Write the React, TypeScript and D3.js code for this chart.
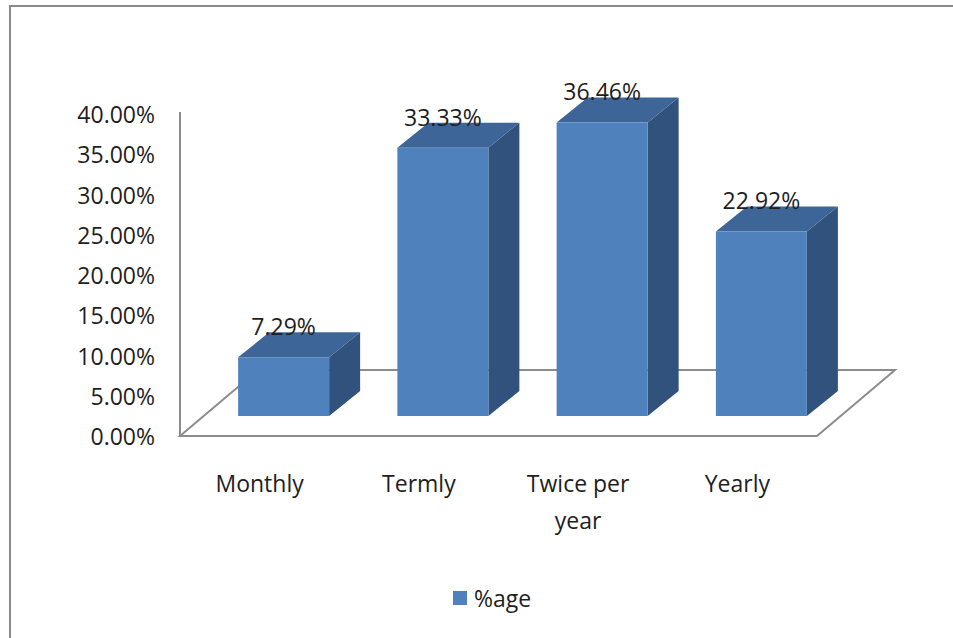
import React from "react";
import * as d3 from "d3";

// Survey responses: how often the activity takes place
const categories: string[][] = [["Monthly"], ["Termly"], ["Twice per", "year"], ["Yearly"]];
const values: number[] = [7.29, 33.33, 36.46, 22.92];
const yTicks: number[] = [0, 5, 10, 15, 20, 25, 30, 35, 40];
const seriesName = "%age";

const W = 953;
const H = 638;
const FONT = "'Open Sans', 'Noto Sans', sans-serif";

// 3D geometry of the floor and of the boxes
const floorLeft = 180;
const floorRight = 817;
const floorFrontY = 436;
const floorDepth = { dx: 78, dy: -66 };
const barShift = { dx: 24, dy: -20 }; // front face of bars sits this far back from the floor front
const barDepth = { dx: 31, dy: -25 };
const barWidth = 91;

const frontColor = "#4f81bd";
const topColor = "#3d6597";
const sideColor = "#30527c";
const lineColor = "#8c8c8c";
const textColor = "#1e1e1e";

export default function App() {
  const y = d3.scaleLinear().domain([0, 40]).range([floorFrontY, floorFrontY - 322]);
  const x = d3
    .scaleBand<number>()
    .domain(values.map((_, i) => i))
    .range([floorLeft, floorRight])
    .paddingInner(0)
    .paddingOuter(0);

  const pts = (p: [number, number][]) => p.map((q) => q.join(",")).join(" ");

  const floor: [number, number][] = [
    [floorLeft, floorFrontY],
    [floorRight, floorFrontY],
    [floorRight + floorDepth.dx, floorFrontY + floorDepth.dy],
    [floorLeft + floorDepth.dx, floorFrontY + floorDepth.dy],
  ];

  return (
    <svg
      width={W}
      height={H}
      viewBox={`0 0 ${W} ${H}`}
      style={{ position: "absolute", left: 0, top: 0, background: "#fff" }}
    >
      {/* chart frame */}
      <rect x={10} y={6} width={1200} height={900} fill="none" stroke="#8a8a8a" strokeWidth={2} />

      {/* floor */}
      <polygon points={pts(floor)} fill="none" stroke={lineColor} strokeWidth={2} />

      {/* vertical axis */}
      <line x1={floorLeft} x2={floorLeft} y1={y(40) - 2} y2={floorFrontY} stroke={lineColor} strokeWidth={2} />

      {yTicks.map((t) => (
        <text
          key={t}
          x={155}
          y={y(t)}
          textAnchor="end"
          dominantBaseline="central"
          fontFamily={FONT}
          fontSize={23}
          fill={textColor}
        >
          {t.toFixed(2) + "%"}
        </text>
      ))}

      {/* boxes */}
      {values.map((v, i) => {
        const cx = (x(i) as number) + x.bandwidth() / 2;
        const x0 = cx - barWidth / 2 + barShift.dx;
        const x1 = x0 + barWidth;
        const base = floorFrontY + barShift.dy;
        const top = base - (floorFrontY - y(v));
        const front: [number, number][] = [
          [x0, top],
          [x1, top],
          [x1, base],
          [x0, base],
        ];
        const topFace: [number, number][] = [
          [x0, top],
          [x0 + barDepth.dx, top + barDepth.dy],
          [x1 + barDepth.dx, top + barDepth.dy],
          [x1, top],
        ];
        const side: [number, number][] = [
          [x1, top],
          [x1 + barDepth.dx, top + barDepth.dy],
          [x1 + barDepth.dx, base + barDepth.dy],
          [x1, base],
        ];
        return (
          <g key={i}>
            <polygon points={pts(side)} fill={sideColor} />
            <polygon points={pts(topFace)} fill={topColor} />
            <polygon points={pts(front)} fill={frontColor} />
            <text
              x={(x0 + x1) / 2}
              y={top - 31}
              textAnchor="middle"
              dominantBaseline="central"
              fontFamily={FONT}
              fontSize={23}
              fill={textColor}
            >
              {v.toFixed(2) + "%"}
            </text>
          </g>
        );
      })}

      {/* category labels */}
      {categories.map((lines, i) => {
        const cx = (x(i) as number) + x.bandwidth() / 2;
        return (
          <text
            key={i}
            x={cx}
            y={483}
            textAnchor="middle"
            dominantBaseline="central"
            fontFamily={FONT}
            fontSize={23}
            fill={textColor}
          >
            {lines.map((l, j) => (
              <tspan key={j} x={cx} dy={j === 0 ? 0 : 37}>
                {l}
              </tspan>
            ))}
          </text>
        );
      })}

      {/* legend */}
      <rect x={453} y={591} width={14} height={14} fill={frontColor} />
      <text x={474} y={598} dominantBaseline="central" fontFamily={FONT} fontSize={23} fill={textColor}>
        {seriesName}
      </text>
    </svg>
  );
}
